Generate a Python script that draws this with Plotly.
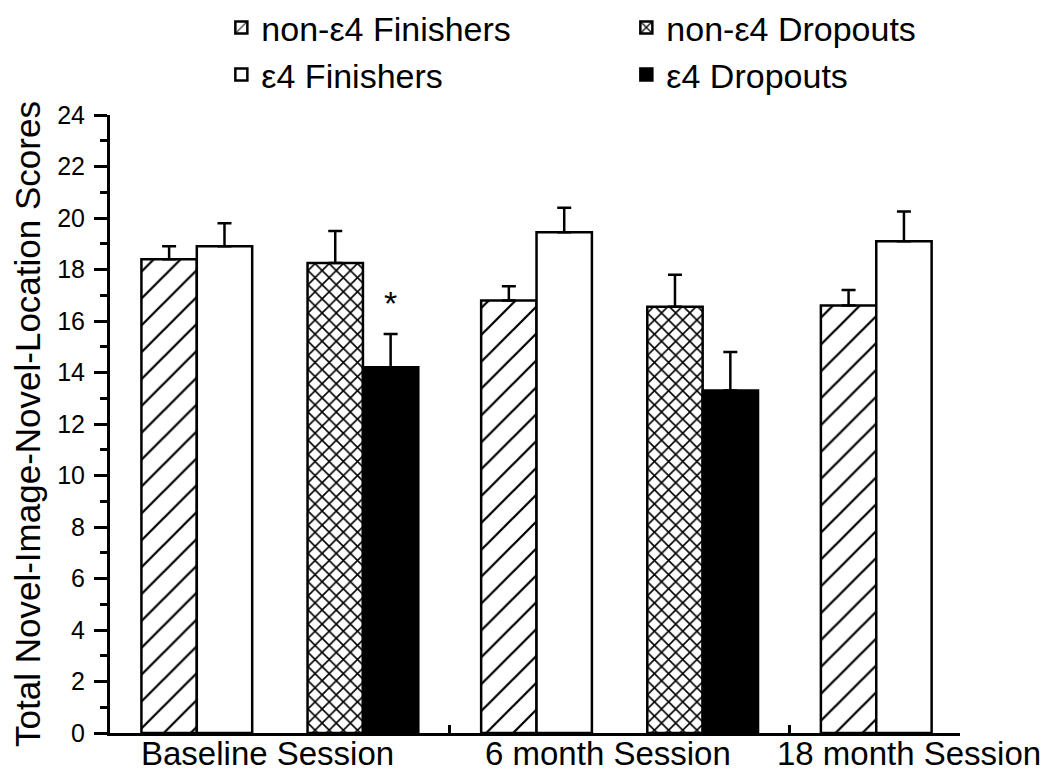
"""
Novel-image-novel-location scores by session, finishers vs dropouts, split by e4 status.
"""

import plotly.graph_objs as go

sessions = ["Baseline Session", "6 month Session", "18 month Session"]

non_e4_finishers = [18.4, 16.8, 16.6]
non_e4_finishers_err = [0.5, 0.55, 0.6]

e4_finishers = [18.9, 19.45, 19.1]
e4_finishers_err = [0.9, 0.95, 1.15]

non_e4_dropouts = [18.25, 16.55, None]
non_e4_dropouts_err = [1.25, 1.25, None]

e4_dropouts = [14.2, 13.3, None]
e4_dropouts_err = [1.3, 1.5, None]

FONT = "Liberation Sans, Arial, sans-serif"
W = 0.163  # bar width in category units; five slots per group, one left empty


def _bar(name, y, err, slot, rank, fill="white", pattern=None):
    marker = dict(color=fill, line=dict(color="black", width=2.5))
    if pattern:
        marker["pattern"] = pattern
    return go.Bar(
        x=sessions, y=y, name=name,
        width=W, offset=slot * W,
        marker=marker,
        legendrank=rank,
        error_y=dict(
            type="data", array=err, symmetric=False,
            arrayminus=[0] * len(err),
            color="black", thickness=2.5, width=7,
        ),
    )


fig = go.Figure()
fig.add_trace(_bar("non-\u03b54 Finishers", non_e4_finishers, non_e4_finishers_err, -2.5, 1,
                   pattern=dict(shape="/", size=19, solidity=0.12, fgopacity=1,
                                fgcolor="black", bgcolor="white")))
fig.add_trace(_bar("\u03b54 Finishers", e4_finishers, e4_finishers_err, -1.5, 3))
fig.add_trace(_bar("non-\u03b54 Dropouts", non_e4_dropouts, non_e4_dropouts_err, 0.5, 2,
                   pattern=dict(shape="x", size=10, solidity=0.3, fgopacity=1,
                                fgcolor="black", bgcolor="white")))
fig.add_trace(_bar("\u03b54 Dropouts", e4_dropouts, e4_dropouts_err, 1.5, 4, fill="black"))

# significance marker above the baseline e4 dropout bar
fig.add_annotation(
    x=2 * W, y=e4_dropouts[0] + e4_dropouts_err[0] + 1.2,
    text="*", showarrow=False, font=dict(family=FONT, size=34, color="black"),
)

# session labels drawn as annotations so the last one can be pulled back inside the page
for i, s in enumerate(sessions):
    fig.add_annotation(
        x=s, xref="x", y=0, yref="paper", yanchor="middle",
        text=s, showarrow=False, yshift=-20,
        xshift=-50 if i == len(sessions) - 1 else -12,
        font=dict(family=FONT, size=33, color="black"),
    )

# page body adds an 8px margin, so the figure is sized a little under the window
fig.update_layout(
    width=1042, height=764,
    barmode="overlay",
    plot_bgcolor="white", paper_bgcolor="white",
    font=dict(family=FONT, color="black"),
    margin=dict(l=102, r=90, t=107, b=39, autoexpand=False),
    legend=dict(
        orientation="h", x=0.131, y=1.188, xanchor="left", yanchor="top",
        font=dict(size=34), entrywidth=360, entrywidthmode="pixels",
        bgcolor="rgba(0,0,0,0)", itemclick=False,
    ),
    showlegend=True,
)
fig.update_xaxes(
    range=[-0.5, 2.002], showgrid=False, showticklabels=False,
    showline=True, linecolor="black", linewidth=3,
    ticks="inside", tickson="boundaries", ticklen=8, tickwidth=2.5, tickcolor="black",
    automargin=False,
)
fig.update_yaxes(
    range=[0, 24], dtick=2, showgrid=False, zeroline=False,
    showline=True, linecolor="black", linewidth=3,
    ticks="outside", ticklen=13, tickwidth=2.5, tickcolor="black",
    minor=dict(dtick=1, ticks="outside", ticklen=7, tickwidth=2.5, tickcolor="black"),
    tickfont=dict(size=25), ticklabelstandoff=4,
    title=dict(text="Total Novel-Image-Novel-Location Scores",
               font=dict(size=35), standoff=14),
    automargin=False,
)

fig.write_html("out.html")
